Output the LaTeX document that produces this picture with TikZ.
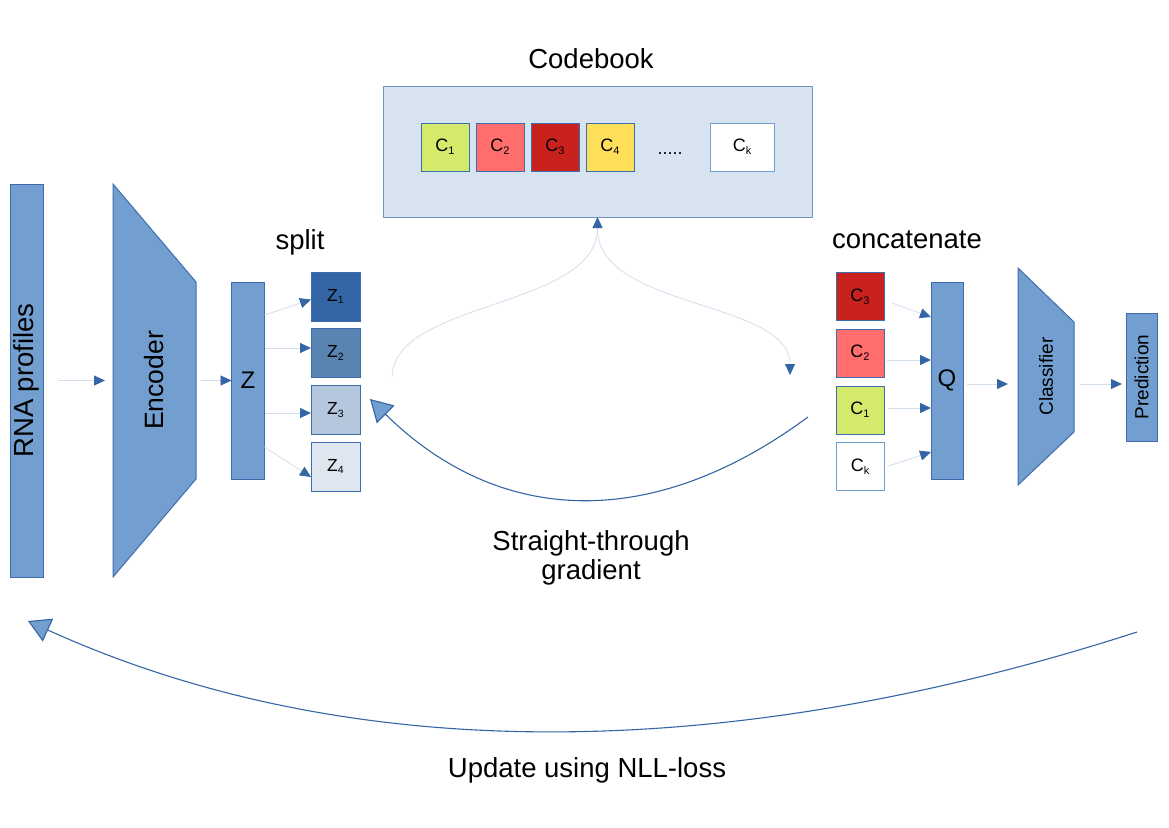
\documentclass[tikz,border=0pt]{standalone}
\usepackage{fontspec}
\setmainfont{Liberation Sans}
\usetikzlibrary{arrows.meta}
\definecolor{barfill}{HTML}{729FCF}
\definecolor{bardraw}{HTML}{3E6DAE}
\definecolor{headblue}{HTML}{3465A4}
\definecolor{lineblue}{HTML}{D3DEEC}
\definecolor{cbfill}{HTML}{D8E3F1}
\definecolor{cbdraw}{HTML}{6F93C6}
\definecolor{zone}{HTML}{3465A4}
\definecolor{ztwo}{HTML}{5983B0}
\definecolor{zthree}{HTML}{B4C7DC}
\definecolor{zfour}{HTML}{DEE6EF}
\definecolor{cone}{HTML}{D4EA6B}
\definecolor{ctwo}{HTML}{FF6D6D}
\definecolor{cthree}{HTML}{C9211E}
\definecolor{cfour}{HTML}{FFDE59}
\newcommand\myidx[1]{\raisebox{-0.3ex}{\fontsize{11pt}{11pt}\selectfont #1}}
\newcommand\zidx[1]{\raisebox{-0.3ex}{\fontsize{10.5pt}{10.5pt}\selectfont #1}}
\begin{document}
\begin{tikzpicture}[x=1pt,y=-1pt,
  bar/.style={draw=bardraw, fill=barfill, line width=1pt, inner sep=0pt, outer sep=0pt},
  shapebox/.style={inner sep=0pt, outer sep=0pt},
  cell/.style={draw=bardraw, line width=1pt, inner sep=0pt, outer sep=0pt, minimum width=48pt, minimum height=48pt, font=\fontsize{18pt}{18pt}\selectfont},
  zcell/.style={cell, minimum width=49pt, minimum height=49pt, font=\fontsize{17.5pt}{17.5pt}\selectfont},
  conn/.style={draw=lineblue, line width=0.8pt, -{Triangle[length=11pt,width=10pt,color=headblue]}},
  bigarrow/.style={draw=headblue, line width=1.1pt, -{Triangle[length=22pt,width=25pt,fill=barfill,color=headblue]}},
  lbl/.style={font=\fontsize{27.5pt}{31pt}\selectfont, inner sep=0pt, anchor=base},
  rottext/.style={rotate=90, inner sep=0pt},
]
\useasboundingbox (0,0) rectangle (1169,827);

% RNA profiles
\node[bar, minimum width=33pt, minimum height=393pt] (rna) at (26.5,380.5) {};
\node[rottext, font=\fontsize{27.5pt}{27.5pt}\selectfont] at (rna.center) {RNA profiles};

% Encoder
\node[shapebox, minimum width=83pt, minimum height=393pt] (enc) at (154.5,380.5) {};
\filldraw[bar] (enc.north west) -- ([yshift=-98pt]enc.north east) -- ([yshift=98pt]enc.south east) -- (enc.south west) -- cycle;
\node[rottext, font=\fontsize{26.5pt}{26.5pt}\selectfont] at (enc.center) {Encoder};

% Z bar
\node[bar, minimum width=33pt, minimum height=197pt, font=\fontsize{24pt}{24pt}\selectfont] (zbar) at (248,380.5) {Z};

% split boxes
\node[zcell, fill=zone] (z1) at (335.5,296.5) {Z\zidx{1}};
\node[zcell, fill=ztwo] (z2) at (335.5,353) {Z\zidx{2}};
\node[zcell, fill=zthree] (z3) at (335.5,410) {Z\zidx{3}};
\node[zcell, fill=zfour] (z4) at (335.5,466.5) {Z\zidx{4}};
\node[lbl] at (300,249) {split};

% Codebook
\node[draw=cbdraw, fill=cbfill, line width=1pt, shapebox, minimum width=429pt, minimum height=131pt] (cb) at (597.5,151.5) {};
\node[lbl] at (591,68) {Codebook};
\node[cell, fill=cone] (k1) at (445,147) {C\myidx{1}};
\node[cell, fill=ctwo] (k2) at (500,147) {C\myidx{2}};
\node[cell, fill=cthree] (k3) at (555,147) {C\myidx{3}};
\node[cell, fill=cfour] (k4) at (610,147) {C\myidx{4}};
\node[inner sep=0pt, anchor=base, font=\fontsize{18pt}{18pt}\selectfont] (dots) at (670,154) {.....};
\node[cell, draw=barfill, fill=white, minimum width=64pt] (kk) at (742,147) {C\myidx{k}};

% concatenate boxes
\node[lbl] at (907,248) {concatenate};
\node[cell, fill=cthree] (c3r) at (860,296.5) {C\myidx{3}};
\node[cell, fill=ctwo] (c2r) at (860,353) {C\myidx{2}};
\node[cell, fill=cone] (c1r) at (860,410) {C\myidx{1}};
\node[cell, draw=barfill, fill=white] (ckr) at (860,466.5) {C\myidx{k}};

% Q bar
\node[bar, minimum width=32pt, minimum height=197pt, font=\fontsize{24pt}{24pt}\selectfont] (Q) at (947,380.5) {Q};

% Classifier
\node[shapebox, minimum width=56pt, minimum height=217pt] (cls) at (1046,376.5) {};
\filldraw[bar] (cls.north west) -- ([yshift=-54pt]cls.north east) -- ([yshift=53pt]cls.south east) -- (cls.south west) -- cycle;
\node[rottext, font=\fontsize{19pt}{19pt}\selectfont] at (cls.center) {Classifier};

% Prediction
\node[bar, minimum width=31pt, minimum height=128pt] (pred) at (1141.5,377) {};
\node[rottext, font=\fontsize{19pt}{19pt}\selectfont] at (pred.center) {Prediction};

% connectors left
\draw[conn] ([xshift=15pt]rna.east) -- ([xshift=-8pt]enc.west);
\draw[conn] ([xshift=5pt]enc.east) -- (zbar.west);
\draw[conn] ([yshift=65.5pt]zbar.east) -- ([yshift=-3pt]z1.west);
\coordinate (z2in) at ([yshift=5pt]z2.west);
\draw[conn] (zbar.east |- z2in) -- (z2in);
\coordinate (z3in) at ([yshift=-3pt]z3.west);
\draw[conn] (zbar.east |- z3in) -- (z3in);
\draw[conn] ([yshift=-66.5pt]zbar.east) -- ([yshift=-10.5pt]z4.west);

% connectors right
\draw[conn] ([shift={(8pt,-6.5pt)}]c3r.east) -- ([yshift=63.5pt]Q.west);
\coordinate (c2o) at ([shift={(3pt,-7pt)}]c2r.east);
\draw[conn] (c2o) -- (Q.west |- c2o);
\coordinate (c1o) at ([shift={(4pt,2pt)}]c1r.east);
\draw[conn] (c1o) -- (Q.west |- c1o);
\draw[conn] ([shift={(3pt,0pt)}]ckr.east) -- ([yshift=-71.5pt]Q.west);
\coordinate (qo) at ([shift={(4pt,-3.5pt)}]Q.east);
\coordinate (clsin) at ([xshift=-10pt]cls.west);
\draw[conn] (qo) -- (clsin |- qo);
\coordinate (clso) at ([shift={(6pt,-7.5pt)}]cls.east);
\coordinate (predin) at ([xshift=-4pt]pred.west);
\draw[conn] (clso) -- (predin |- clso);

% codebook lookup curves
\coordinate (zq) at ([shift={(32pt,32pt)}]z3.east);
\draw[conn] (zq) .. controls +(0,-78) and +(0,92) .. (cb.south);
\coordinate (cbo) at ([yshift=-12pt]cb.south);
\coordinate (cin) at ([shift={(-46pt,35pt)}]c1r.west);
\draw[conn] (cbo) .. controls +(0,80) and +(0,-75) .. (cin);

% straight-through gradient
\coordinate (sgs) at ([shift={(-28pt,-7pt)}]c1r.west);
\coordinate (sge) at ([shift={(10pt,11pt)}]z3.east);
\draw[bigarrow] (sgs) .. controls +(-160,118) and +(126,124) .. (sge);
\node[lbl] at (591,550) {Straight-through};
\node[lbl] at (591,579) {gradient};

% NLL loss update
\coordinate (nls) at ([shift={(-4.5pt,-191pt)}]pred.south);
\coordinate (nle) at ([shift={(1.5pt,-44pt)}]rna.south);
\draw[bigarrow] (nls) .. controls +(-396,128) and +(330,150) .. (nle);
\node[lbl] at (587,777) {Update using NLL-loss};
\end{tikzpicture}
\end{document}
